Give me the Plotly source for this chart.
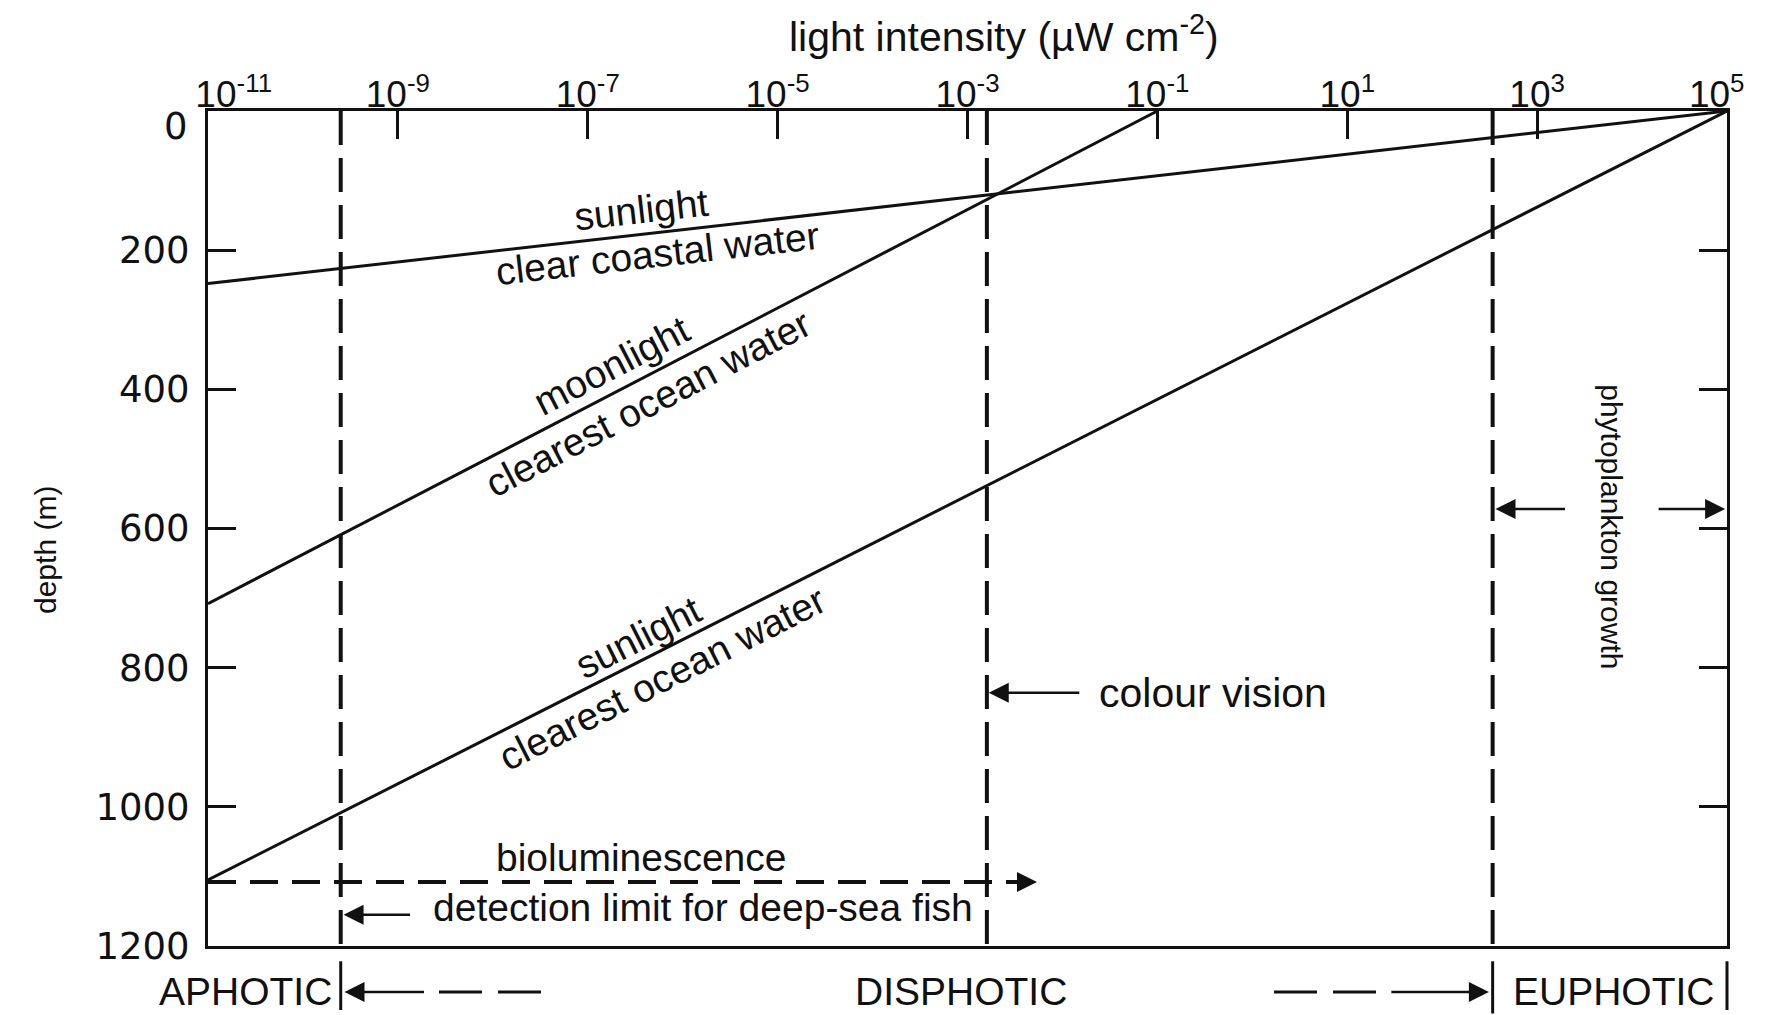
import math
import plotly.graph_objects as go

# ---------------- data ----------------
x_tick_exponents = [-11, -9, -7, -5, -3, -1, 1, 3, 5]
x_tick_values = [10.0 ** e for e in x_tick_exponents]
x_tick_labels = [("&nbsp;" * 5 if e == -11 else "")
                 + f"10<sup>{e}</sup>"
                 + ("&nbsp;" * 2 if e == 5 else "")
                 for e in x_tick_exponents]
depth_ticks = [0, 200, 400, 600, 800, 1000, 1200]
depth_tick_labels = ["", "200", "400", "600", "800", "1000", "1200"]
surface_label = "0"

# light intensity (uW cm^-2) vs depth (m)
coastal_sun_intensity = [1e5, 1e-11]
coastal_sun_depth = [0, 248]
ocean_moon_intensity = [1e-1, 1e-11]
ocean_moon_depth = [0, 708]
ocean_sun_intensity = [1e5, 1e-11]
ocean_sun_depth = [0, 1105]

fish_detection_limit = 2.5e-10
colour_vision_limit = 1.6e-3
phytoplankton_limit = 3.4e2
depth_range = [0, 1200]

biolum_intensity = [1e-11, 4.0e-3]
biolum_depth = [1108, 1108]
biolum_arrow_tip = 5.4e-3

# ---------------- layout geometry ----------------
OFF = 8  # page body margin
W, H = 1759, 1007
ML, MR, MT, MB = 200, 40, 103, 69
PW, PH = W - ML - MR, H - MT - MB
XMIN, XMAX = -11, 5
BLACK = "#111111"
FONT = "Liberation Sans"


def lg(v):
    return math.log10(v)


def xfrac(v):
    return (lg(v) - XMIN) / (XMAX - XMIN)


def yfrac(d):
    return 1 - d / 1200.0


def px_x(p):
    return (p - OFF - ML) / PW


def px_y(p):
    return 1 - (p - OFF - MT) / PH


def line_angle(xs, ds):
    dx = abs(lg(xs[0]) - lg(xs[1])) * PW / (XMAX - XMIN)
    dy = abs(ds[0] - ds[1]) * PH / 1200.0
    return -math.degrees(math.atan2(dy, dx))


fig = go.Figure()

line_style = dict(color=BLACK, width=3)
for xs, ds in [(coastal_sun_intensity, coastal_sun_depth),
               (ocean_moon_intensity, ocean_moon_depth),
               (ocean_sun_intensity, ocean_sun_depth)]:
    fig.add_trace(go.Scatter(x=xs, y=ds, mode="lines", line=line_style,
                             hoverinfo="skip"))

vdash = dict(color=BLACK, width=4, dash="34px,13px")
for v in [fish_detection_limit, colour_vision_limit, phytoplankton_limit]:
    fig.add_trace(go.Scatter(x=[v, v], y=depth_range, mode="lines", line=vdash,
                             hoverinfo="skip"))

fig.add_trace(go.Scatter(x=biolum_intensity, y=biolum_depth, mode="lines",
                         line=dict(color=BLACK, width=4, dash="28px,14px"),
                         hoverinfo="skip"))

annotations = []
lab_font = dict(family=FONT, size=39, color=BLACK)

a1 = line_angle(coastal_sun_intensity, coastal_sun_depth)
a2 = line_angle(ocean_moon_intensity, ocean_moon_depth)
a3 = line_angle(ocean_sun_intensity, ocean_sun_depth)

for text, lx, d, ang in [
    ("sunlight", -6.43, 142, a1),
    ("clear coastal water", -6.27, 205, a1),
    ("moonlight", -6.75, 366, a2),
    ("clearest ocean water", -6.37, 420, a2),
    ("sunlight", -6.47, 757, a3),
    ("clearest ocean water", -6.22, 815, a3),
]:
    annotations.append(dict(x=lx, y=d, xref="x", yref="y", text=text,
                            textangle=ang, showarrow=False, font=lab_font,
                            xanchor="center", yanchor="middle"))

zone_y = yfrac(1266)
annotations += [
    dict(x=-0.41, y=836, xref="x", yref="y", text="colour vision",
         showarrow=False, font=dict(family=FONT, size=41, color=BLACK)),
    dict(x=-6.43, y=1073, xref="x", yref="y", text="bioluminescence",
         showarrow=False, font=lab_font),
    dict(x=-8.65, y=1144, xref="x", yref="y", text="detection limit for deep-sea fish",
         showarrow=False, font=lab_font, xanchor="left"),
    dict(x=3.78, y=597, xref="x", yref="y", text="phytoplankton growth",
         textangle=90, showarrow=False,
         font=dict(family=FONT, size=30, color=BLACK)),
    # zone labels below the plot
    dict(x=-9.67, y=zone_y, xref="x", yref="paper", text="APHOTIC",
         showarrow=False, font=lab_font, xanchor="right", yanchor="middle"),
    dict(x=-3.07, y=zone_y, xref="x", yref="paper", text="DISPHOTIC",
         showarrow=False, font=lab_font, xanchor="center", yanchor="middle"),
    dict(x=3.81, y=zone_y, xref="x", yref="paper", text="EUPHOTIC",
         showarrow=False, font=lab_font, xanchor="center", yanchor="middle"),
    # surface depth label, sitting just below the top axis labels
    dict(x=px_x(190), y=px_y(126), xref="paper", yref="paper",
         xanchor="right", yanchor="middle", text=surface_label, showarrow=False,
         font=dict(family="DejaVu Sans", size=37, color=BLACK)),
    # axis titles
    dict(x=px_x(1004), y=px_y(34), xref="paper", yref="paper",
         xanchor="center", yanchor="middle",
         text="light intensity (µW cm<sup>-2</sup>)",
         showarrow=False, font=dict(family=FONT, size=41, color=BLACK)),
    dict(x=px_x(45), y=px_y(550), xref="paper", yref="paper",
         xanchor="center", yanchor="middle",
         text="depth (m)", textangle=-90, showarrow=False,
         font=dict(family=FONT, size=30, color=BLACK)),
]

arrow_style = dict(showarrow=True, arrowhead=2, arrowsize=1.6, arrowwidth=2.5,
                   arrowcolor=BLACK, text="", ay=0)
annotations += [
    dict(x=lg(colour_vision_limit) + 0.02, y=836, xref="x", yref="y", ax=92, **arrow_style),
    dict(x=lg(fish_detection_limit) + 0.03, y=1155, xref="x", yref="y", ax=68, **arrow_style),
    dict(x=lg(phytoplankton_limit) + 0.03, y=572, xref="x", yref="y", ax=71, **arrow_style),
    dict(x=XMAX - 0.02, y=572, xref="x", yref="y", ax=-68, **arrow_style),
    dict(x=lg(biolum_arrow_tip), y=biolum_depth[0], xref="x", yref="y", ax=-32, **arrow_style),
    dict(x=lg(fish_detection_limit) + 0.04, y=zone_y, xref="x", yref="paper", ax=81, **arrow_style),
    dict(x=lg(phytoplankton_limit) - 0.04, y=zone_y, xref="x", yref="paper", ax=-99, **arrow_style),
]

shapes = []
# zone separator bars below the plot
for v, d0, d1 in [(fish_detection_limit, 1222, 1292),
                  (phytoplankton_limit, 1222, 1297),
                  (10 ** XMAX, 1222, 1292)]:
    shapes.append(dict(type="line", xref="paper", yref="paper",
                       x0=xfrac(v), x1=xfrac(v), y0=yfrac(d0), y1=yfrac(d1),
                       line=dict(color=BLACK, width=3)))
# dashed continuation of zone arrows
for p0, p1 in [(439, 544), (1274, 1378)]:
    shapes.append(dict(type="line", xref="paper", yref="paper",
                       x0=px_x(p0), x1=px_x(p1), y0=zone_y, y1=zone_y,
                       line=dict(color=BLACK, width=3, dash="43px,16px")))

fig.update_layout(
    width=W, height=H,
    margin=dict(l=ML, r=MR, t=MT, b=MB, autoexpand=False),
    paper_bgcolor="white", plot_bgcolor="white",
    showlegend=False,
    annotations=annotations,
    shapes=shapes,
)

fig.update_xaxes(
    type="log", range=[XMIN, XMAX], side="top", automargin=False,
    tickvals=x_tick_values, ticktext=x_tick_labels,
    ticks="inside", ticklen=28, tickwidth=3, tickcolor=BLACK,
    showline=True, linewidth=3, linecolor=BLACK, mirror=True,
    showgrid=False, zeroline=False, ticklabelstandoff=-14,
    tickfont=dict(family=FONT, size=37, color=BLACK),
)
fig.update_yaxes(
    range=[1200, 0], tickvals=depth_ticks, ticktext=depth_tick_labels,
    automargin=False,
    ticks="inside", ticklen=28, tickwidth=3, tickcolor=BLACK,
    showline=True, linewidth=3, linecolor=BLACK, mirror="ticks",
    showgrid=False, zeroline=False, ticklabelstandoff=8,
    tickfont=dict(family="DejaVu Sans", size=37, color=BLACK),
)

fig.write_html("out.html")
